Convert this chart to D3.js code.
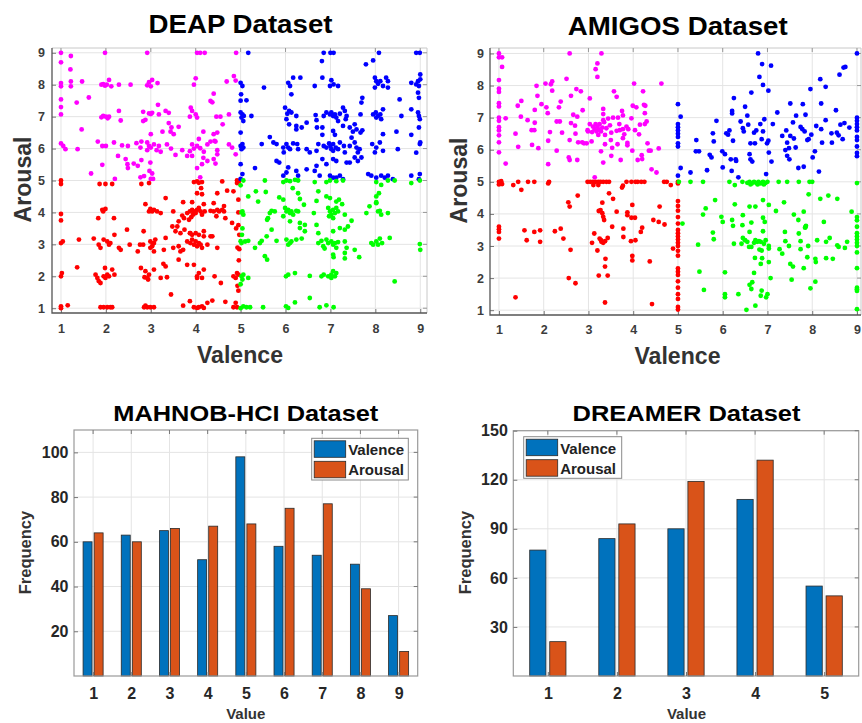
<!DOCTYPE html>
<html><head><meta charset="utf-8">
<script src="https://cdn.jsdelivr.net/npm/d3@7"></script>
<style>body{margin:0;background:#fff;}svg{display:block;font-family:"Liberation Sans",Arial,sans-serif;}</style>
</head><body><svg id="c" width="862" height="723"></svg>
<script>
// ---------------- DATA ----------------
const scatterTicks=[1,2,3,4,5,6,7,8,9];
const seriesNames=["Valence","Arousal"];

// DEAP: [valence, arousal]
const deapLowValHighAr=[[1.0,9.0],[1.22,8.9],[1.98,9.0],[2.92,9.0],[4.03,9.0],[4.1,9.0],[4.2,9.0],[4.9,9.0],[1.0,8.7],[1.21,8.48],[1.0,8.05],[1.0,7.95],[1.22,8.1],[1.22,7.95],[1.47,8.1],[1.9,8.0],[1.94,8.02],[1.98,7.97],[2.02,8.0],[2.07,8.15],[2.12,7.95],[2.29,8.0],[2.55,8.0],[2.92,7.98],[2.96,8.08],[3.0,7.95],[3.03,8.15],[3.15,8.05],[3.96,8.0],[4.0,8.2],[4.69,8.1],[4.85,8.27],[4.89,8.13],[1.62,7.6],[1.0,7.54],[4.4,7.72],[4.33,7.49],[4.37,7.45],[1.35,7.44],[1.0,7.3],[1.0,7.07],[1.9,6.98],[1.94,7.02],[2.0,7.0],[2.04,6.95],[2.07,7.0],[2.29,7.18],[2.33,6.88],[2.83,7.15],[2.96,7.1],[3.0,7.08],[3.03,7.12],[3.16,7.37],[3.18,7.07],[3.33,7.18],[3.4,7.12],[3.89,7.28],[3.92,7.18],[4.0,7.07],[4.03,6.97],[3.87,7.0],[4.46,7.0],[4.55,7.0],[4.6,6.76],[4.74,7.07],[1.46,6.6],[2.83,6.86],[2.88,6.9],[3.4,6.8],[3.46,6.66],[3.62,6.68],[3.44,6.53],[3.51,6.45],[4.17,6.53],[4.4,6.45],[4.48,6.5],[3.26,6.53],[3.0,6.45],[2.79,6.22],[4.42,6.24],[1.0,6.16],[1.05,6.08],[1.1,5.98],[1.37,5.98],[1.82,6.22],[1.92,6.08],[2.0,6.08],[2.18,6.19],[2.36,6.1],[2.49,6.08],[2.68,6.17],[2.77,6.03],[2.92,6.19],[2.96,6.08],[3.0,6.03],[3.07,6.13],[3.13,5.95],[3.18,6.08],[2.92,5.95],[3.22,5.9],[3.36,6.13],[3.45,6.0],[3.55,5.8],[3.7,5.95],[3.87,5.92],[3.92,6.13],[3.96,6.0],[4.03,6.08],[4.07,6.3],[4.1,6.01],[4.18,5.9],[4.26,6.13],[3.81,5.77],[3.92,5.77],[4.33,6.22],[4.44,6.22],[4.48,5.95],[4.74,6.13],[4.81,6.03],[4.89,5.82],[2.27,5.77],[2.44,5.67],[2.48,5.51],[2.62,5.53],[2.71,5.46],[2.49,5.39],[2.79,5.64],[2.99,5.56],[2.97,5.3],[3.03,5.22],[1.67,5.22],[1.92,5.49],[4.03,5.39],[4.14,5.51],[4.26,5.61],[4.17,5.71],[4.4,5.67],[4.48,5.82],[4.44,5.53],[2.77,5.1],[2.85,5.14],[3.0,5.05],[3.05,5.05],[4.1,5.1],[2.2,5.05]];
const deapHighValHighAr=[[5.17,9],[6.85,9],[7.0,9],[7.07,9],[8.08,9],[8.91,9],[8.99,9],[6.81,8.74],[7.95,8.76],[7.79,8.64],[5.0,8.06],[5.04,7.96],[5.52,7.91],[6.06,8.06],[6.1,7.96],[6.17,8.22],[6.33,8.22],[6.65,7.96],[6.82,8.22],[6.99,7.96],[7.02,8.14],[7.07,8.01],[7.17,7.96],[7.99,8.22],[8.02,8.11],[8.06,8.03],[8.11,8.11],[8.17,7.96],[8.24,8.22],[8.28,8.11],[7.99,7.91],[8.28,7.91],[8.8,8.06],[8.95,8.11],[9.0,8.32],[8.97,7.96],[8.91,8.01],[9.0,8.17],[5.01,7.7],[5.13,7.51],[6.13,7.7],[7.71,7.59],[7.69,7.44],[8.54,7.54],[8.97,7.59],[8.95,7.75],[5.0,7.13],[5.02,6.97],[5.04,7.07],[5.06,6.86],[5.07,7.02],[5.24,7.02],[5.99,7.28],[6.04,7.09],[6.08,7.18],[6.02,6.92],[6.13,7.13],[6.24,7.02],[6.67,7.05],[6.85,7.02],[6.91,7.13],[6.99,7.07],[7.02,7.13],[7.06,7.02],[7.1,7.07],[7.13,6.97],[7.21,7.09],[7.28,7.28],[7.32,7.18],[7.36,7.02],[7.17,6.86],[7.67,7.07],[7.95,7.07],[8.01,7.13],[8.06,7.02],[8.11,7.07],[8.02,6.97],[8.17,7.23],[8.13,6.92],[8.58,7.02],[8.8,7.23],[8.95,7.13],[8.97,7.02],[8.99,6.92],[6.08,6.76],[6.24,6.71],[6.36,6.66],[6.47,6.81],[6.69,6.89],[6.7,6.66],[6.82,6.66],[7.06,6.55],[7.1,6.43],[7.28,6.71],[7.43,6.66],[7.54,6.76],[7.5,6.53],[7.58,6.6],[7.67,6.5],[7.71,6.57],[7.34,6.92],[7.47,6.34],[5.65,6.36],[6.24,6.6],[6.82,6.43],[8.17,6.45],[8.47,6.53],[8.8,6.43],[8.97,6.66],[5.0,6.08],[5.02,5.98],[5.04,6.14],[5.06,6.03],[5.47,6.14],[5.73,6.19],[5.8,6.14],[5.95,6.03],[6.02,6.14],[6.06,6.03],[6.1,5.98],[6.17,6.16],[6.26,6.14],[6.28,5.98],[5.96,5.88],[6.47,5.98],[6.54,5.88],[6.69,5.93],[6.73,6.14],[6.85,6.08],[6.91,6.03],[6.97,6.16],[7.0,6.08],[7.02,5.98],[7.06,6.14],[7.06,5.93],[7.12,6.03],[7.17,5.98],[7.21,6.19],[7.3,6.08],[7.32,5.88],[7.43,6.08],[7.54,6.19],[7.58,6.03],[7.65,5.98],[7.61,5.88],[7.93,6.14],[8.02,6.03],[8.1,6.19],[7.99,5.88],[8.17,5.93],[8.5,5.98],[8.91,5.87],[8.99,6.14],[9.0,6.19],[5.0,5.51],[5.32,5.39],[5.8,5.61],[5.86,5.56],[6.06,5.41],[6.02,5.25],[5.95,5.15],[6.24,5.3],[6.28,5.15],[6.47,5.35],[6.65,5.3],[6.69,5.46],[6.82,5.67],[6.91,5.51],[7.06,5.67],[7.13,5.61],[7.36,5.56],[7.43,5.56],[7.54,5.72],[7.61,5.61],[7.69,5.72],[6.76,5.15],[6.99,5.15],[7.06,5.09],[7.13,5.09],[7.21,5.15],[7.28,5.04],[7.84,5.2],[7.91,5.15],[8.02,5.09],[8.13,5.15],[8.21,5.09],[8.28,5.15],[8.39,5.04],[8.8,5.15],[8.99,5.2],[8.97,5.04],[5.0,7.5],[5.0,6.5],[5.0,5.05],[5.04,5.2]];
const deapLowValLowAr=[[1.0,5.0],[1.0,4.89],[1.86,4.89],[1.99,4.89],[2.14,4.89],[2.79,4.89],[2.96,4.92],[3.96,4.95],[4.03,4.97],[4.07,4.93],[4.14,4.95],[4.59,4.97],[4.92,5.0],[4.92,4.92],[4.96,4.97],[4.03,4.6],[4.14,4.57],[4.48,4.6],[4.7,4.68],[4.84,4.66],[4.12,4.76],[3.33,4.45],[2.88,4.26],[3.72,4.32],[3.92,4.32],[4.18,4.26],[4.4,4.29],[4.63,4.2],[1.92,4.08],[1.94,4.03],[1.99,4.11],[2.99,4.11],[3.03,4.03],[3.07,4.08],[3.14,4.03],[3.22,3.98],[2.96,4.03],[2.18,3.82],[3.5,4.03],[3.7,3.9],[3.74,3.82],[3.81,3.98],[3.87,4.03],[3.92,4.08],[3.94,3.93],[3.96,4.03],[4.03,4.08],[4.07,4.14],[4.0,3.98],[4.11,4.03],[4.14,3.93],[3.85,3.77],[3.9,3.85],[4.2,4.03],[4.33,4.05],[4.4,4.03],[4.48,4.08],[4.52,4.03],[4.59,4.08],[4.63,4.03],[4.46,3.88],[4.66,3.82],[4.81,3.67],[1.83,3.82],[2.47,3.46],[2.84,3.41],[3.33,3.2],[3.62,3.72],[3.59,3.56],[3.48,3.56],[3.55,3.41],[3.66,3.35],[3.75,3.46],[3.87,3.35],[3.92,3.3],[4.0,3.35],[4.07,3.3],[4.18,3.41],[4.33,3.25],[2.19,3.3],[1.4,3.15],[1.73,3.18],[1.0,3.04],[1.04,3.09],[1.84,2.99],[1.88,2.89],[1.95,3.15],[2.03,3.09],[2.07,2.99],[2.1,3.04],[2.29,2.89],[2.33,2.83],[2.53,2.99],[2.71,2.78],[2.76,2.99],[2.83,2.99],[2.99,3.09],[3.03,2.94],[3.07,3.04],[3.1,3.15],[2.99,2.89],[3.05,3.02],[3.07,2.78],[3.29,2.83],[3.5,2.89],[3.62,2.94],[3.66,2.78],[3.72,2.83],[3.81,3.09],[3.88,3.35],[3.88,3.04],[3.92,3.15],[3.96,2.99],[4.0,3.09],[4.03,2.94],[4.07,3.04],[4.11,2.99],[4.14,2.89],[4.18,3.25],[4.26,2.99],[4.37,3.25],[4.48,2.89],[1.36,2.28],[1.77,2.05],[1.81,1.95],[1.84,1.85],[1.88,1.79],[1.95,2.0],[1.99,1.95],[2.03,2.05],[2.07,2.0],[1.98,2.26],[2.14,2.21],[2.19,2.05],[2.78,2.26],[2.88,2.16],[2.92,1.95],[2.96,2.05],[2.94,1.9],[2.86,1.97],[3.28,2.39],[3.33,2.31],[3.22,1.95],[3.62,2.52],[3.81,2.36],[3.96,2.36],[4.03,2.0],[4.07,2.1],[4.18,2.21],[4.03,1.95],[4.14,1.95],[4.42,2.0],[4.56,1.79],[4.84,2.0],[4.89,1.95],[4.92,2.1],[3.36,1.97],[3.07,2.21],[3.45,1.43],[1.0,1.06],[1.15,1.09],[1.88,1.03],[1.95,1.03],[2.03,1.03],[2.1,1.03],[2.14,1.03],[2.85,1.03],[2.92,1.03],[2.99,1.03],[3.07,1.03],[2.88,1.08],[3.72,1.08],[3.87,1.22],[3.96,1.03],[4.03,1.01],[4.07,1.03],[4.14,1.06],[4.26,1.17],[4.37,1.24],[4.18,1.01],[4.66,1.2],[4.84,1.03],[4.92,1.03],[4.89,1.17],[4.95,4.0],[4.95,3.6],[4.97,3.3],[4.93,2.9],[4.96,2.5],[4.95,2.05],[4.93,1.7],[4.95,1.55],[1.0,3.95],[1.0,3.75],[1.02,2.1],[1.0,2.0],[1.0,1.0],[4.95,4.4],[4.9,3.5],[4.97,2.85]];
const deapHighValLowAr=[[5.06,5.0],[5.54,5.0],[5.95,4.95],[6.02,5.0],[6.1,4.98],[6.21,5.02],[6.28,5.0],[6.65,4.95],[6.91,4.95],[6.99,5.0],[7.13,4.98],[7.28,5.0],[8.02,4.95],[8.13,4.86],[8.28,5.0],[8.8,4.92],[8.99,5.0],[8.43,5.0],[5.17,4.5],[5.34,4.66],[5.39,4.34],[5.56,4.64],[5.86,4.47],[5.95,4.4],[6.28,4.6],[6.16,4.76],[6.32,4.42],[6.41,4.24],[6.69,4.36],[6.73,4.66],[6.91,4.5],[6.99,4.45],[7.13,4.34],[7.19,4.4],[7.26,4.26],[8.02,4.5],[8.02,4.32],[8.08,4.6],[5.06,3.93],[5.04,4.03],[5.61,3.82],[5.65,3.98],[5.69,4.05],[5.76,4.03],[5.59,3.77],[5.99,4.14],[6.02,4.03],[6.06,4.08],[6.1,3.98],[6.13,4.03],[6.17,3.93],[6.24,4.05],[6.28,4.03],[6.1,3.72],[5.95,3.88],[6.32,3.67],[6.63,3.98],[6.95,4.14],[6.99,4.03],[7.02,3.93],[7.06,4.08],[7.1,3.98],[7.13,4.14],[7.17,4.03],[7.06,3.82],[6.97,3.88],[7.32,3.93],[7.47,3.74],[7.8,3.98],[7.87,4.19],[8.02,4.29],[8.06,4.03],[8.1,4.05],[8.13,3.93],[8.28,3.98],[6.43,3.61],[6.69,3.61],[7.32,3.46],[7.39,3.56],[5.69,3.46],[6.73,3.35],[7.06,3.41],[7.21,3.51],[5.8,3.11],[6.43,3.41],[6.32,3.51],[5.02,3.04],[5.1,3.09],[5.17,3.11],[5.32,2.89],[5.43,3.04],[5.47,3.11],[5.58,3.25],[6.02,3.15],[6.06,2.99],[6.1,3.04],[6.13,3.09],[6.24,3.15],[6.36,3.18],[6.73,3.04],[6.8,3.11],[6.84,2.94],[6.91,3.15],[6.95,3.04],[7.02,3.09],[7.06,2.99],[7.1,3.04],[7.13,2.89],[7.17,3.07],[6.87,2.87],[7.32,3.09],[7.36,2.89],[7.54,2.83],[7.91,3.04],[7.95,2.99],[8.02,3.09],[8.06,2.99],[8.1,3.18],[8.15,3.04],[8.32,3.2],[8.99,3.01],[9.0,2.83],[5.54,2.63],[5.59,2.52],[7.06,2.68],[7.07,2.6],[7.32,2.56],[7.32,2.73],[7.64,2.6],[5.06,2.05],[5.17,1.95],[6.01,2.0],[6.06,2.05],[6.21,2.1],[6.54,2.01],[6.8,2.0],[6.85,2.05],[6.95,2.0],[7.02,2.05],[7.06,2.16],[7.1,2.0],[7.13,2.1],[7.02,1.95],[8.43,1.84],[6.54,1.32],[6.21,1.18],[5.06,1.06],[5.13,1.03],[5.21,1.03],[5.5,1.03],[6.01,1.06],[6.06,1.01],[6.76,1.03],[6.91,1.09],[7.07,1.03],[5.0,4.85],[5.02,4.0],[5.04,3.5],[5.03,3.3],[5.0,3.1],[5.02,2.0],[5.0,1.75],[5.04,1.9],[5.0,1.0]];

// AMIGOS: [valence, arousal]
const amigosLowValHighAr=[[1.0,9.0],[1.0,8.88],[1.0,8.17],[1.0,7.9],[1.0,7.8],[1.0,7.45],[1.0,7.35],[1.0,7.0],[1.0,6.9],[1.0,6.7],[1.0,6.6],[1.0,6.45],[1.0,6.23],[1.0,5.92],[1.07,8.88],[1.07,8.58],[1.15,6.98],[1.15,5.57],[1.37,6.5],[1.42,7.37],[1.43,6.09],[1.49,7.03],[1.5,7.52],[1.64,6.92],[1.73,6.61],[1.74,6.15],[1.79,6.61],[1.8,6.84],[1.8,7.24],[1.84,7.99],[1.86,7.68],[1.88,6.05],[1.95,7.42],[2.04,8.06],[2.06,7.32],[2.09,7.14],[2.1,6.28],[2.1,5.55],[2.14,6.55],[2.16,8.04],[2.19,8.13],[2.19,7.84],[2.29,5.97],[2.29,6.88],[2.34,7.32],[2.36,6.88],[2.38,7.5],[2.41,6.53],[2.51,8.21],[2.58,9.0],[2.61,7.68],[2.61,6.83],[2.58,6.3],[2.56,5.76],[2.58,5.68],[2.66,7.09],[2.7,6.75],[2.71,6.5],[2.73,7.89],[2.75,7.03],[2.75,5.68],[2.77,6.23],[2.83,7.82],[2.86,6.23],[2.9,6.2],[2.96,6.2],[2.87,7.23],[2.98,6.61],[3.03,7.6],[3.07,6.26],[3.16,8.51],[3.2,8.69],[3.2,8.27],[3.29,9.0],[3.14,5.14],[2.99,6.57],[3.03,6.8],[3.08,6.55],[3.1,6.72],[3.14,6.64],[3.16,6.8],[3.18,6.57],[3.2,6.72],[3.22,6.46],[3.23,6.63],[3.25,6.8],[3.28,6.57],[3.31,6.69],[3.33,7.27],[3.33,7.11],[3.35,6.86],[3.37,6.46],[3.4,6.67],[3.44,6.97],[3.48,6.76],[3.33,6.92],[3.28,5.95],[3.33,5.6],[3.37,6.17],[3.5,6.3],[3.51,6.53],[3.53,6.06],[3.51,5.81],[3.55,7.0],[3.57,7.82],[3.63,7.65],[3.63,6.59],[3.65,6.17],[3.66,7.0],[3.69,6.8],[3.72,5.68],[3.75,7.21],[3.77,7.07],[3.77,6.64],[3.77,6.36],[3.8,6.48],[3.85,6.72],[3.87,6.21],[3.87,6.14],[3.89,6.64],[3.96,6.98],[3.98,5.97],[3.99,7.37],[4.02,8.06],[4.04,6.61],[4.07,7.32],[4.1,5.68],[4.13,6.48],[4.15,6.78],[4.19,5.83],[4.2,5.71],[4.24,7.4],[4.26,6.8],[4.27,7.37],[4.3,6.88],[4.32,6.2],[4.35,5.97],[4.39,5.97],[4.22,7.82],[4.41,5.39],[4.52,5.29],[4.57,6.04],[4.63,8.06],[4.26,7.14],[3.7,6.61]];
const amigosHighValHighAr=[[5.0,7.42],[5.0,6.8],[5.0,6.7],[5.0,6.6],[5.0,6.5],[5.0,6.4],[5.0,6.2],[5.0,6.1],[5.0,5.19],[5.06,7.03],[5.06,5.43],[5.28,5.29],[5.41,6.3],[5.4,5.95],[5.47,5.95],[5.65,5.36],[5.71,5.84],[5.75,5.76],[5.78,6.51],[5.8,6.26],[5.86,6.9],[5.99,5.95],[6.0,5.45],[6.05,5.86],[6.08,6.51],[6.12,6.47],[6.15,6.6],[6.18,5.7],[6.2,5.34],[6.21,7.21],[6.21,7.13],[6.23,6.28],[6.25,7.61],[6.29,5.7],[6.3,5.65],[6.35,5.14],[6.4,6.88],[6.45,6.67],[6.47,6.57],[6.5,7.34],[6.55,7.06],[6.57,6.78],[6.6,5.86],[6.62,6.2],[6.62,5.7],[6.64,7.78],[6.66,5.63],[6.7,6.53],[6.72,6.2],[6.75,6.6],[6.79,9.0],[6.82,8.27],[6.84,6.8],[6.87,6.33],[6.88,8.67],[6.9,6.57],[6.9,8.02],[6.93,6.95],[6.97,5.24],[6.99,6.2],[7.02,7.84],[7.02,6.28],[7.03,5.91],[7.08,8.62],[7.09,5.63],[7.12,6.8],[7.22,7.16],[7.33,6.43],[7.4,5.99],[7.42,6.6],[7.44,6.22],[7.44,5.81],[7.48,6.05],[7.49,5.7],[7.51,6.43],[7.51,7.44],[7.57,6.85],[7.59,6.35],[7.63,6.07],[7.64,7.06],[7.69,5.43],[7.74,6.71],[7.78,6.64],[7.79,7.42],[7.81,5.47],[7.83,6.57],[7.85,7.09],[7.89,6.3],[7.92,6.33],[7.96,7.89],[7.98,6.47],[8.01,5.76],[8.06,5.95],[8.09,6.74],[8.15,5.32],[8.18,8.2],[8.2,6.64],[8.22,6.22],[8.2,7.44],[8.3,7.96],[8.3,6.92],[8.43,6.51],[8.44,6.22],[8.53,7.23],[8.55,6.53],[8.59,6.45],[8.61,8.34],[8.63,6.78],[8.68,6.33],[8.7,8.56],[8.74,8.58],[8.72,6.83],[8.83,6.69],[9.0,9.0],[9.0,7.0],[9.0,6.9],[9.0,6.8],[9.0,6.7],[9.0,6.6],[9.0,6.4],[9.0,6.3],[9.0,6.1],[9.0,5.8],[9.0,5.9]];
const amigosLowValLowAr=[[1.0,5.0],[1.02,4.97],[1.05,5.02],[1.07,4.93],[1.0,4.92],[1.0,3.6],[1.0,3.52],[1.0,3.44],[1.0,3.23],[1.32,4.9],[1.43,5.0],[1.5,4.75],[1.65,5.0],[1.79,5.0],[1.57,3.49],[1.62,3.18],[1.79,3.44],[1.92,3.49],[1.92,3.13],[2.12,5.0],[2.1,4.95],[2.25,3.46],[2.38,3.54],[2.44,3.23],[1.37,1.4],[2.55,4.36],[2.58,4.23],[2.76,4.57],[2.6,2.88],[2.56,2.0],[2.71,1.84],[2.98,5.0],[3.04,5.0],[3.1,5.0],[3.16,5.0],[3.22,5.0],[3.27,5.0],[3.33,5.0],[3.4,5.0],[3.46,5.0],[3.11,4.9],[3.22,4.9],[3.23,4.09],[3.27,4.12],[3.31,4.02],[3.33,3.91],[3.35,3.81],[3.31,4.35],[3.46,4.64],[3.55,4.47],[3.63,4.07],[3.13,3.39],[3.08,3.1],[3.2,2.86],[3.25,3.23],[3.29,3.13],[3.33,3.1],[3.37,3.15],[3.43,3.25],[3.28,3.18],[3.38,2.6],[3.37,2.36],[3.23,2.08],[3.43,2.08],[3.37,1.24],[3.53,3.6],[3.75,4.82],[3.77,4.88],[3.85,5.0],[3.87,4.05],[3.87,3.96],[3.78,3.54],[3.78,3.28],[3.95,3.15],[3.98,4.28],[3.96,3.88],[4.04,3.88],[4.05,3.18],[3.98,2.69],[3.98,2.55],[3.96,5.0],[4.05,5.0],[4.1,5.0],[4.18,5.0],[4.25,5.0],[4.17,3.44],[4.2,3.57],[4.37,2.52],[4.42,1.19],[4.45,3.81],[4.57,3.75],[4.59,4.23],[4.7,3.67],[4.69,5.0],[4.75,5.0],[4.84,4.9],[4.89,2.92],[5.0,4.4],[5.0,4.25],[5.0,4.1],[5.0,3.9],[5.0,3.7],[5.0,3.5],[5.0,3.4],[5.0,3.3],[5.0,3.2],[5.0,3.1],[5.0,3.0],[5.0,2.85],[5.0,2.7],[5.0,2.3],[5.0,2.2],[5.0,2.1],[5.0,1.9],[5.0,1.7],[5.0,1.5],[5.0,1.35],[5.0,1.1],[5.0,1.02],[5.0,5.0],[5.0,4.95]];
const amigosHighValLowAr=[[5.02,5.0],[5.28,5.0],[5.56,5.0],[6.15,5.0],[6.27,4.9],[6.44,5.0],[6.55,4.97],[6.6,5.0],[6.65,4.95],[6.7,5.0],[6.75,4.96],[6.8,5.0],[6.85,4.95],[6.9,5.0],[6.95,4.96],[7.0,5.0],[6.62,4.92],[6.78,4.92],[6.92,4.92],[7.25,5.0],[7.44,5.0],[7.7,5.0],[7.94,5.0],[8.0,5.0],[9.0,4.96],[7.92,4.61],[8.36,4.57],[5.83,4.43],[6.9,4.43],[7.37,4.36],[8.18,4.47],[8.56,4.47],[7.03,4.28],[6.27,4.3],[5.62,4.17],[5.56,3.98],[5.97,3.91],[6.0,3.75],[6.21,3.81],[6.23,3.63],[6.45,3.96],[6.44,3.65],[6.6,4.23],[6.73,4.23],[6.64,3.73],[6.9,3.88],[6.94,3.75],[7.19,4.09],[7.59,3.98],[7.69,3.81],[7.81,4.07],[7.85,3.59],[7.86,3.63],[8.26,3.75],[8.88,4.07],[9.0,3.9],[9.0,3.8],[9.0,3.6],[5.1,3.7],[5.78,3.42],[5.8,3.21],[6.25,3.07],[6.42,3.07],[6.45,3.25],[6.5,3.18],[6.55,3.13],[6.6,3.44],[6.59,2.97],[6.64,2.97],[6.7,3.1],[6.73,3.18],[6.77,3.13],[6.81,3.15],[6.85,3.13],[6.9,3.46],[6.92,3.07],[6.87,2.86],[6.96,3.18],[6.82,2.89],[7.03,3.0],[7.03,2.92],[7.39,3.44],[7.4,3.15],[7.27,2.9],[7.33,2.76],[7.48,3.0],[7.7,3.39],[7.74,3.15],[7.74,2.9],[7.84,3.57],[7.91,3.0],[8.11,3.18],[8.31,3.13],[8.39,3.25],[8.56,3.02],[8.59,2.97],[8.73,2.94],[8.78,3.13],[9.0,3.4],[9.0,3.3],[9.0,3.2],[9.0,3.1],[9.0,3.0],[9.0,2.8],[5.45,3.04],[6.72,2.63],[6.88,2.62],[7.03,2.5],[6.85,2.44],[7.51,2.44],[7.57,2.36],[7.81,2.31],[7.89,2.65],[8.07,2.6],[8.08,2.5],[8.31,2.62],[8.46,2.6],[9.0,2.31],[5.48,2.2],[6.05,2.18],[6.7,2.16],[7.07,2.0],[7.54,1.95],[8.07,1.89],[6.66,1.87],[6.6,1.79],[5.58,1.63],[6.05,1.5],[6.05,1.4],[6.35,1.5],[6.64,1.66],[6.87,1.61],[6.85,1.45],[7.0,1.5],[6.97,1.4],[7.96,1.68],[6.53,1.01],[6.73,1.14],[9.0,1.7],[9.0,1.6],[9.0,1.65],[9.0,1.03]];

// MAHNOB-HCI frequencies
const mahnobCategories=[1,2,3,4,5,6,7,8,9];
const mahnobValence=[60,63,65,52,98,58,54,50,27];
const mahnobArousal=[64,60,66,67,68,75,77,39,11];
const mahnobYTicks=[20,40,60,80,100];
// DREAMER frequencies
const dreamerCategories=[1,2,3,4,5];
const dreamerValence=[77,84,90,108,55];
const dreamerArousal=[21,93,119,132,49];
const dreamerYTicks=[30,60,90,120,150];

// ---------------- STYLE ----------------
const C_MAG="#ff00ff",C_BLUE="#0000ff",C_RED="#ff0000",C_GREEN="#00ff00";
const BAR_COLORS=["#0072bd","#d95319"];
const GRID="#e4e4e4";
const svg=d3.select("#c");

function styleAxis(sel,fs,color){
  sel.select(".domain").remove();
  sel.selectAll(".tick line").attr("stroke","#777");
  sel.selectAll(".tick text").attr("font-size",fs).attr("font-weight","bold").attr("fill",color).attr("font-family","'Liberation Sans',Arial,sans-serif");
}

function drawScatter(o){
  const x=d3.scaleLinear().domain(o.xd).range([o.x0,o.x1]);
  const y=d3.scaleLinear().domain(o.yd).range([o.y1,o.y0]);
  const g=svg.append("g");
  g.append("g").selectAll("line").data(scatterTicks).join("line")
    .attr("x1",d=>x(d)).attr("x2",d=>x(d)).attr("y1",o.y0).attr("y2",o.y1).attr("stroke",GRID);
  g.append("g").selectAll("line").data(scatterTicks).join("line")
    .attr("y1",d=>y(d)).attr("y2",d=>y(d)).attr("x1",o.x0).attr("x2",o.x1).attr("stroke",GRID);
  g.append("path").attr("d",`M${o.x0},${o.y0}H${o.x1}V${o.y1}`).attr("fill","none").attr("stroke","#c8c8c8");
  const xa=g.append("g").attr("transform",`translate(0,${o.y1})`).call(d3.axisBottom(x).tickValues(scatterTicks).tickSize(-4).tickPadding(o.xpad));
  styleAxis(xa,12.5,"#3c3c3c");
  const ya=g.append("g").attr("transform",`translate(${o.x0},0)`).call(d3.axisLeft(y).tickValues(scatterTicks).tickSize(-4).tickPadding(o.ypad));
  styleAxis(ya,12.5,"#3c3c3c");
  g.append("g").selectAll("line").data(scatterTicks).join("line").attr("x1",d=>x(d)).attr("x2",d=>x(d)).attr("y1",o.y0).attr("y2",o.y0+4).attr("stroke","#999");
  g.append("g").selectAll("line").data(scatterTicks).join("line").attr("y1",d=>y(d)).attr("y2",d=>y(d)).attr("x1",o.x1).attr("x2",o.x1-4).attr("stroke","#999");
  g.append("path").attr("d",`M${o.x0},${o.y0}V${o.y1}H${o.x1}`).attr("fill","none").attr("stroke","#555").attr("stroke-width",1.3);
  o.groups.forEach(([data,col])=>{
    g.append("g").selectAll("circle").data(data).join("circle")
      .attr("cx",d=>x(d[0])).attr("cy",d=>y(d[1])).attr("r",2.4).attr("fill",col);
  });
  g.append("text").attr("x",o.tx).attr("y",o.ty).attr("text-anchor","middle").attr("font-size",25).attr("font-weight","bold")
    .attr("textLength",o.tw).attr("lengthAdjust","spacingAndGlyphs").text(o.title);
  g.append("text").attr("x",(o.x0+o.x1)/2+o.xlOff).attr("y",o.xly).attr("text-anchor","middle").attr("font-size",23).attr("font-weight","bold").attr("fill","#333")
    .attr("textLength",86).attr("lengthAdjust","spacingAndGlyphs").text("Valence");
  g.append("text").attr("transform",`translate(${o.ylx},${(o.y0+o.y1)/2-1}) rotate(-90)`).attr("text-anchor","middle").attr("font-size",23).attr("font-weight","bold").attr("fill","#333")
    .attr("textLength",86).attr("lengthAdjust","spacingAndGlyphs").text("Arousal");
}

drawScatter({title:"DEAP Dataset",x0:52,x1:427,y0:48,y1:313,xd:[0.8,9.15],yd:[0.85,9.15],xpad:11,ypad:7,
  tx:240.5,ty:33,tw:184,xlOff:0.5,xly:363,ylx:31,
  groups:[[deapLowValHighAr,C_MAG],[deapLowValLowAr,C_RED],[deapHighValHighAr,C_BLUE],[deapHighValLowAr,C_GREEN]]});
drawScatter({title:"AMIGOS Dataset",x0:490,x1:861,y0:48,y1:315,xd:[0.8,9.09],yd:[0.85,9.17],xpad:10,ypad:6,
  tx:677.7,ty:35,tw:220,xlOff:2,xly:364,ylx:467,
  groups:[[amigosLowValHighAr,C_MAG],[amigosLowValLowAr,C_RED],[amigosHighValHighAr,C_BLUE],[amigosHighValLowAr,C_GREEN]]});

function drawBars(o){
  const x=d3.scaleLinear().domain([0.5,o.cats.length+0.5]).range([o.x0,o.x1]);
  const y=d3.scaleLinear().domain([0,o.ymax]).range([o.y1,o.y0]);
  const g=svg.append("g");
  g.append("g").selectAll("line").data(o.cats).join("line").attr("x1",d=>x(d)).attr("x2",d=>x(d)).attr("y1",o.y0).attr("y2",o.y1).attr("stroke",GRID);
  g.append("g").selectAll("line").data(o.yticks).join("line").attr("y1",d=>y(d)).attr("y2",d=>y(d)).attr("x1",o.x0).attr("x2",o.x1).attr("stroke",GRID);
  const off=0.145,bw=0.235;
  [o.val,o.aro].forEach((vals,si)=>{
    g.append("g").selectAll("rect").data(vals).join("rect")
      .attr("x",(d,i)=>x(o.cats[i]+(si===0?-off:off)-bw/2))
      .attr("width",x(bw)-x(0))
      .attr("y",d=>y(d)).attr("height",d=>y(0)-y(d))
      .attr("fill",BAR_COLORS[si]).attr("stroke","#2a2a2a").attr("stroke-width",0.8);
  });
  g.append("rect").attr("x",o.x0).attr("y",o.y0).attr("width",o.x1-o.x0).attr("height",o.y1-o.y0).attr("fill","none").attr("stroke","#9a9a9a").attr("stroke-width",1.2);
  const xa=g.append("g").attr("transform",`translate(0,${o.y1})`).call(d3.axisBottom(x).tickValues(o.cats).tickFormat(d3.format("d")).tickSize(-4).tickPadding(12));
  styleAxis(xa,16,"#262626");
  const ya=g.append("g").attr("transform",`translate(${o.x0},0)`).call(d3.axisLeft(y).tickValues(o.yticks).tickSize(-4).tickPadding(5.5));
  styleAxis(ya,16,"#262626");
  g.append("g").selectAll("line").data(o.cats).join("line").attr("x1",d=>x(d)).attr("x2",d=>x(d)).attr("y1",o.y0).attr("y2",o.y0+4).attr("stroke","#777");
  g.append("g").selectAll("line").data(o.yticks).join("line").attr("y1",d=>y(d)).attr("y2",d=>y(d)).attr("x1",o.x1).attr("x2",o.x1-4).attr("stroke","#777");
  g.append("text").attr("x",o.tx).attr("y",420.7).attr("text-anchor","middle").attr("font-size",22).attr("font-weight","bold")
    .attr("textLength",o.tw).attr("lengthAdjust","spacingAndGlyphs").text(o.title);
  g.append("text").attr("x",o.tx).attr("y",718.5).attr("text-anchor","middle").attr("font-size",15).attr("font-weight","bold").attr("fill","#333").text("Value");
  g.append("text").attr("transform",`translate(${o.flx},552.5) rotate(-90)`).attr("text-anchor","middle").attr("font-size",16.5).attr("font-weight","bold").attr("fill","#333").text("Frequency");
  const L=o.leg;
  const lg=g.append("g");
  lg.append("rect").attr("x",L.x).attr("y",L.y).attr("width",L.w).attr("height",L.h).attr("fill","#fff").attr("stroke","#8a8a8a");
  seriesNames.forEach((nm,i)=>{
    lg.append("rect").attr("x",L.x+2.5).attr("y",L.y+2.5+i*20.5).attr("width",31.5).attr("height",16.5).attr("fill",BAR_COLORS[i]).attr("stroke","#2a2a2a").attr("stroke-width",0.8);
    lg.append("text").attr("x",L.x+36.5).attr("y",L.y+17+i*19.8).attr("font-size",15).attr("font-weight","bold").attr("fill","#222").text(nm);
  });
}

drawBars({title:"MAHNOB-HCI Dataset",cats:mahnobCategories,val:mahnobValence,aro:mahnobArousal,yticks:mahnobYTicks,ymax:110,
  x0:74,x1:417.7,y0:430,y1:676,tx:245.8,tw:265,flx:31,leg:{x:311.7,y:438.3,w:96.6,h:41.7}});
drawBars({title:"DREAMER Dataset",cats:dreamerCategories,val:dreamerValence,aro:dreamerArousal,yticks:dreamerYTicks,ymax:150,
  x0:513.3,x1:858.7,y0:430.7,y1:676,tx:686.5,tw:228,flx:470.5,leg:{x:523.7,y:436.7,w:98,h:41.6}});
</script></body></html>
